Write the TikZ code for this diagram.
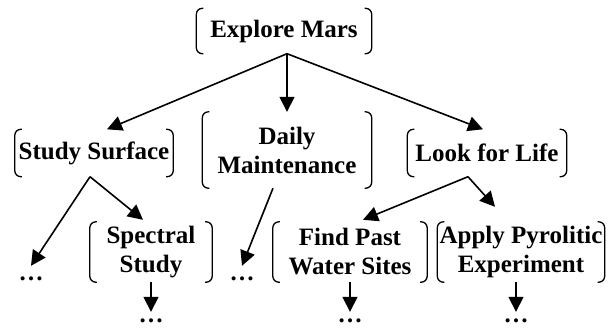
\documentclass[tikz,border=0pt]{standalone}
\usepackage{fontspec}
\setmainfont{Liberation Serif}
\usetikzlibrary{arrows.meta}

\begin{document}
\begin{tikzpicture}[x=1pt,y=-1pt,
  goal/.style={align=center,inner sep=0pt,font=\bfseries\fontsize{25}{29}\selectfont},
  more/.style={inner sep=0pt,minimum height=26pt,font=\bfseries\fontsize{25}{29}\selectfont},
  link/.style={line width=1.6pt,-{Triangle[length=15pt,width=15pt]}},
  brk/.style={line width=1.3pt,rounded corners=6pt}]
\useasboundingbox (0,0) rectangle (611,330);
%GOALS
\node[goal,minimum width=175pt,minimum height=45pt] (mars) at (284,31) {Explore Mars};
\node[goal,minimum width=158pt,minimum height=47pt] (surface) at (94,153) {Study Surface};
\node[goal,minimum width=169pt,minimum height=76pt] (maint) at (287,150) {Daily\\Maintenance};
\node[goal,minimum width=159pt,minimum height=47pt] (life) at (487,153) {Look for Life};
\node[goal,minimum width=122pt,minimum height=60pt] (spectral) at (151,252) {Spectral\\Study};
\node[goal,minimum width=154pt,minimum height=60pt] (water) at (350,252) {Find Past\\Water Sites};
\node[goal,minimum width=167pt,minimum height=60pt] (pyro) at (521,252) {Apply Pyrolitic\\Experiment};
%DOTS
\node[more] (dotsA) at (31,279) {…};
\node[more] (dotsB) at (242,279) {…};
\node[more,minimum height=18pt] (dotsC) at (151,321) {…};
\node[more,minimum height=18pt] (dotsD) at (350,321) {…};
\node[more,minimum height=18pt] (dotsE) at (516,321) {…};
%BRACKETS
\foreach \n in {mars,surface,maint,life,spectral,water,pyro}{
  \draw[brk] ([xshift=7pt]\n.north west) -- (\n.north west) -- (\n.south west) -- ([xshift=7pt]\n.south west);
  \draw[brk] ([xshift=-7pt]\n.north east) -- (\n.north east) -- (\n.south east) -- ([xshift=-7pt]\n.south east);
}
%ARROWS
\draw[link] ([xshift=3pt]mars.south) -- ([xshift=13pt]surface.north);
\draw[link] ([xshift=3pt]mars.south) -- (maint.north);
\draw[link] ([xshift=3pt]mars.south) -- ([xshift=-4pt]life.north);
\draw[link] ([xshift=-4pt]surface.south) -- (dotsA.north);
\draw[link] ([xshift=-4pt]surface.south) -- ([xshift=-8pt,yshift=2pt]spectral.north);
\draw[link] ([xshift=-14pt]maint.south) -- (dotsB.north);
\draw[link] ([xshift=-19pt]life.south) -- ([xshift=13pt,yshift=2pt]water.north);
\draw[link] ([xshift=-19pt]life.south) -- ([xshift=-26pt,yshift=15pt]pyro.north);
\draw[link] (spectral.south) -- (dotsC.north);
\draw[link] (water.south) -- (dotsD.north);
\draw[link] ([xshift=-5pt]pyro.south) -- (dotsE.north);
\end{tikzpicture}
\end{document}
